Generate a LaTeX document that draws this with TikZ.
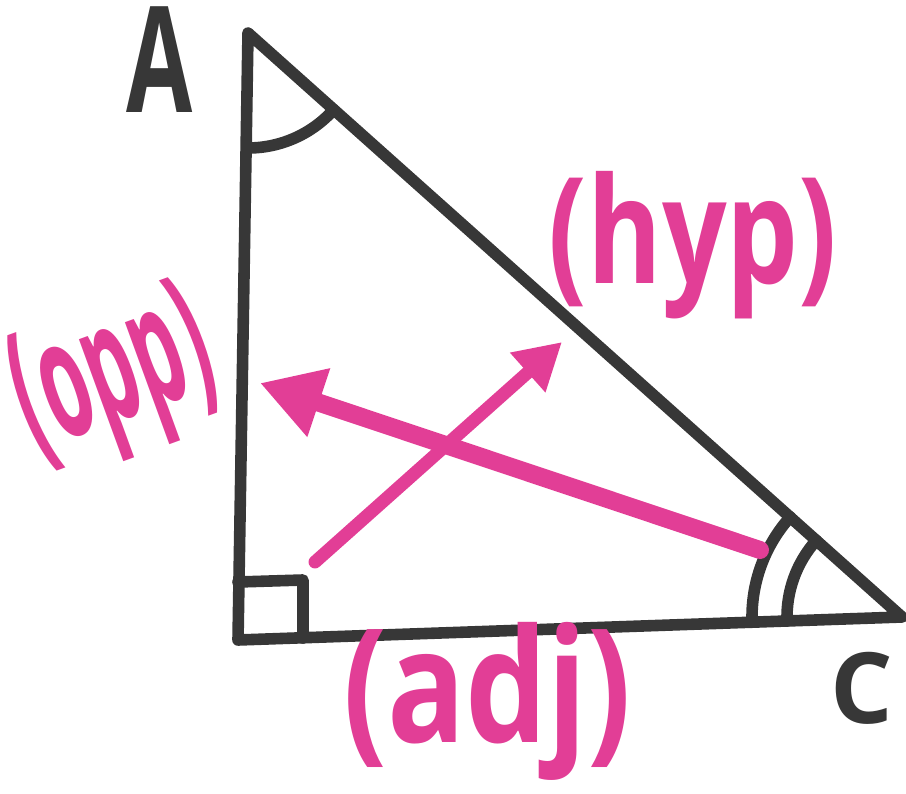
\documentclass[tikz,border=0pt]{standalone}
\usepackage{fontspec}
\usepackage{tikz}
\usetikzlibrary{arrows.meta}
\newfontfamily\markerfont{Open Sans}
\definecolor{markerpink}{RGB}{226, 62, 150}
\definecolor{markerblack}{RGB}{55, 55, 55}

\begin{document}
\begin{tikzpicture}[
    side/.style={draw=markerblack, line width=3.3pt, line join=round, line cap=round},
    pointer/.style={draw=markerpink, line cap=round},
    sidename/.style={text=markerpink, inner sep=0pt, font=\markerfont\bfseries\fontsize{42}{42}\selectfont},
    vertex/.style={text=markerblack, inner sep=0pt, font=\markerfont\bfseries\fontsize{42}{42}\selectfont}
]
    \useasboundingbox (0,0) rectangle (9.06,7.93);

    % Corners of the triangle
    \coordinate (A) at (2.48, 7.60);
    \coordinate (B) at (2.38, 1.53);
    \coordinate (C) at (9.02, 1.76);

    \draw[side] (A) -- (B) -- (C) -- cycle;

    % Angle marks
    \draw[side] (A) ++(-90:1.15) arc[start angle=-90, end angle=-41.8, radius=1.15];
    \draw[side] (C) ++(138.2:1.5) arc[start angle=138.2, end angle=182, radius=1.5];
    \draw[side] (C) ++(138.2:1.15) arc[start angle=138.2, end angle=182, radius=1.15];
    \draw[side] (B) ++(0,0.58) -- ++(0.65,0.02) -- ++(0,-0.58);

    % Vertex names
    \node[vertex, xscale=0.65] (nameA) at (1.60, 7.33) {A};
    \node[vertex, font=\markerfont\bfseries\fontsize{28}{28}\selectfont] (nameC) at (8.62, 1.05) {C};

    % Sides
    \node[sidename, xscale=0.77] (hyp) at (6.93, 5.48) {(hyp)};
    \node[sidename, xscale=0.82, font=\markerfont\bfseries\fontsize{45}{45}\selectfont] (adj) at (4.87, 0.92) {(adj)};
    \node[sidename, rotate=20, xscale=0.47, font=\markerfont\bfseries\fontsize{47}{47}\selectfont] (opp) at (1.15, 4.12) {(opp)};

    % Arrows from the angle at C
    \coordinate (oppTail) at (7.60, 2.43);
    \coordinate (oppTip) at (2.60, 4.10);
    \coordinate (hypTail) at (3.15, 2.31);
    \coordinate (hypTip) at (5.62, 4.51);

    \draw[pointer, line width=0.18cm, -{Triangle[length=0.62cm, width=0.68cm]}] (oppTail) -- (oppTip);
    \draw[pointer, line width=0.13cm, -{Triangle[length=0.46cm, width=0.5cm]}] (hypTail) -- (hypTip);

\end{tikzpicture}
\end{document}
